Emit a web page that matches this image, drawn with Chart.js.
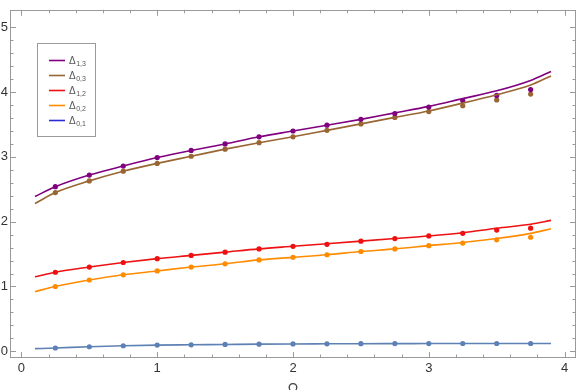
<!DOCTYPE html>
<html><head><meta charset="utf-8">
<script src="https://cdn.jsdelivr.net/npm/chart.js@4.4.1/dist/chart.umd.min.js"></script>
<style>html,body{margin:0;padding:0;background:#fff}</style>
</head><body>
<canvas id="c" width="582" height="390"></canvas>
<script>
// ---- data ----
const pointX = [0.25,0.5,0.75,1.0,1.25,1.5,1.75,2.0,2.25,2.5,2.75,3.0,3.25,3.5,3.75];
const curveX = [0.1,0.25,0.5,0.75,1.0,1.25,1.5,1.75,2.0,2.25,2.5,2.75,3.0,3.25,3.5,3.75,3.9];

const seriesSymbols = ['Δ','Δ','Δ','Δ','Δ'];
const seriesSubs = ['1,3','0,3','1,2','0,2','0,1'];

const pts13 = [2.54,2.72,2.86,2.99,3.10,3.20,3.31,3.40,3.49,3.58,3.67,3.77,3.87,3.95,4.04];
const pts03 = [2.45,2.63,2.78,2.90,3.01,3.12,3.22,3.31,3.41,3.51,3.61,3.70,3.79,3.88,3.97];
const pts12 = [1.22,1.30,1.37,1.43,1.48,1.53,1.58,1.62,1.65,1.70,1.74,1.78,1.82,1.87,1.90];
const pts02 = [1.00,1.10,1.18,1.24,1.30,1.35,1.41,1.45,1.49,1.54,1.58,1.63,1.67,1.72,1.76];
const pts01 = [0.05,0.07,0.085,0.095,0.10,0.105,0.11,0.113,0.115,0.117,0.118,0.119,0.12,0.12,0.12];

const cur13 = [2.39,2.54,2.72,2.86,2.99,3.10,3.20,3.31,3.40,3.49,3.58,3.68,3.78,3.90,4.02,4.18,4.32];
const cur03 = [2.28,2.45,2.63,2.78,2.90,3.01,3.12,3.22,3.31,3.41,3.51,3.61,3.71,3.83,3.96,4.11,4.25];
const cur12 = [1.15,1.22,1.30,1.37,1.43,1.48,1.53,1.58,1.62,1.66,1.70,1.74,1.78,1.83,1.90,1.96,2.02];
const cur02 = [0.92,1.00,1.10,1.18,1.24,1.30,1.35,1.41,1.45,1.49,1.54,1.58,1.63,1.68,1.74,1.82,1.89];
const cur01 = [0.04,0.05,0.07,0.085,0.095,0.10,0.105,0.11,0.113,0.115,0.117,0.118,0.119,0.12,0.12,0.12,0.12];

const xTickLabels = ['0','1','2','3','4'];
const yTickLabels = ['0','1','2','3','4','5'];
const xAxisTitle = 'Ω';

// ---- styles ----
const colors = ['#800080','#996633','#ee1111','#ff8c00','#5e81b5'];
const legendColors = ['#800080','#996633','#ee1111','#ff8c00','#2a2ad8'];

const allPts = [pts13,pts03,pts12,pts02,pts01];
const allCur = [cur13,cur03,cur12,cur02,cur01];

const datasets = [];
allCur.forEach((c,i)=>{
  datasets.push({
    label: seriesSymbols[i]+seriesSubs[i],
    data: curveX.map((x,j)=>({x:x,y:c[j]})),
    showLine: true, pointRadius: 0, borderColor: colors[i], borderWidth: 1.6,
    cubicInterpolationMode: 'monotone', fill: false
  });
});
allPts.forEach((p,i)=>{
  datasets.push({
    label: seriesSymbols[i]+seriesSubs[i]+' pts',
    data: pointX.map((x,j)=>({x:x,y:p[j]})),
    showLine: false, pointRadius: 2.6, pointBackgroundColor: colors[i],
    pointBorderWidth: 0, borderColor: colors[i]
  });
});

function buildTicks(maxInt){
  const t=[];
  for(let k=0;k<=maxInt*5;k++){ t.push({value: k/5}); }
  return t;
}
const isInt = v => Math.abs(v-Math.round(v))<1e-6;

const framePlugin = {
  id:'frame',
  afterDraw(chart){
    const {ctx, chartArea:a, scales:{x,y}} = chart;
    ctx.save();
    ctx.strokeStyle='#9a9a9a'; ctx.lineWidth=1;
    ctx.strokeRect(Math.round(a.left)+0.5, Math.round(a.top)+0.5, Math.round(a.right-a.left)-1, Math.round(a.bottom-a.top)-1);
    ctx.beginPath();
    x.ticks.forEach(t=>{
      const px = Math.round(x.getPixelForValue(t.value))+0.5;
      const L = isInt(t.value)?6:3.5;
      ctx.moveTo(px,a.bottom); ctx.lineTo(px,a.bottom-L);
      ctx.moveTo(px,a.top); ctx.lineTo(px,a.top+L);
    });
    y.ticks.forEach(t=>{
      const py = Math.round(y.getPixelForValue(t.value))+0.5;
      const L = isInt(t.value)?6:3.5;
      ctx.moveTo(a.left,py); ctx.lineTo(a.left+L,py);
      ctx.moveTo(a.right,py); ctx.lineTo(a.right-L,py);
    });
    ctx.stroke();

    // axis title
    ctx.fillStyle='#444'; ctx.font='14px "Liberation Sans", Arial, sans-serif';
    ctx.textAlign='center'; ctx.textBaseline='top';
    ctx.fillText(xAxisTitle, x.getPixelForValue(2), 382);

    // legend
    const bx=37.5, by=43.5, bw=58, bh=93;
    ctx.fillStyle='#fff'; ctx.fillRect(bx,by,bw,bh);
    ctx.strokeStyle='#9a9a9a'; ctx.strokeRect(bx,by,bw,bh);
    seriesSubs.forEach((s,i)=>{
      const ly = 60.5 + i*15;
      ctx.strokeStyle=legendColors[i]; ctx.lineWidth=1.6;
      ctx.beginPath(); ctx.moveTo(49,ly); ctx.lineTo(65,ly); ctx.stroke();
      ctx.fillStyle='#555'; ctx.textAlign='left'; ctx.textBaseline='alphabetic';
      ctx.font='10px "Liberation Sans", Arial, sans-serif';
      ctx.fillText(seriesSymbols[i], 69, ly+3.5);
      const w = ctx.measureText(seriesSymbols[i]).width;
      ctx.font='7px "Liberation Sans", Arial, sans-serif';
      ctx.fillText(s, 69+w+0.5, ly+5.5);
    });
    ctx.restore();
  }
};

new Chart(document.getElementById('c'), {
  type:'scatter',
  data:{datasets},
  options:{
    responsive:false, animation:false, devicePixelRatio:1,
    layout:{padding:{top:6,right:6,left:0,bottom:0}},
    plugins:{legend:{display:false}, tooltip:{enabled:false}},
    scales:{
      x:{type:'linear', min:-0.084, max:4.084,
        afterBuildTicks: s=>{ s.ticks = buildTicks(xTickLabels.length-1); },
        afterFit: s=>{ s.height = 32; },
        grid:{display:false, drawTicks:false}, border:{display:false},
        ticks:{autoSkip:false, maxRotation:0, padding:3, color:'#333',
          font:{family:'"Liberation Sans", Arial, sans-serif', size:13},
          callback:(v)=> isInt(v) ? xTickLabels[Math.round(v)] : ''}
      },
      y:{type:'linear', min:-0.104, max:5.271,
        afterBuildTicks: s=>{ s.ticks = buildTicks(yTickLabels.length-1); },
        afterFit: s=>{ s.width = 10; },
        grid:{display:false, drawTicks:false}, border:{display:false},
        ticks:{autoSkip:false, padding:2, color:'#333',
          font:{family:'"Liberation Sans", Arial, sans-serif', size:13},
          callback:(v)=> isInt(v) ? yTickLabels[Math.round(v)] : ''}
      }
    }
  },
  plugins:[framePlugin]
});
</script>
</body></html>
